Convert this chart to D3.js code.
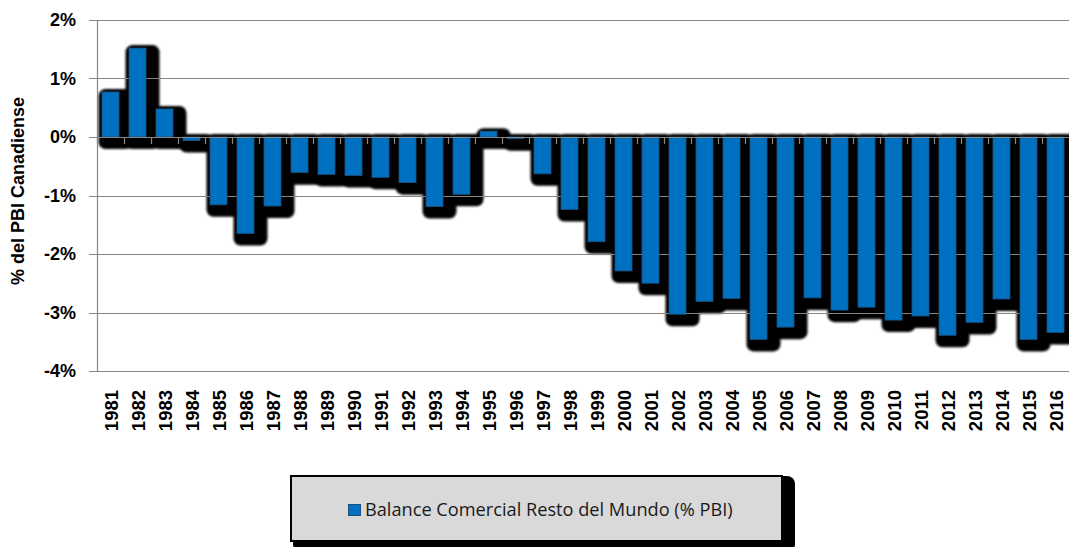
<!DOCTYPE html>
<html>
<head>
<meta charset="utf-8">
<script src="https://cdn.jsdelivr.net/npm/d3@7"></script>
<style>
  html, body { margin: 0; padding: 0; background: #fff; }
  svg { display: block; }
</style>
</head>
<body>
<script>
const years = ["1981","1982","1983","1984","1985","1986","1987","1988","1989","1990",
  "1991","1992","1993","1994","1995","1996","1997","1998","1999","2000",
  "2001","2002","2003","2004","2005","2006","2007","2008","2009","2010",
  "2011","2012","2013","2014","2015","2016"];
const balance = [0.77, 1.52, 0.48, -0.06, -1.16, -1.65, -1.18, -0.61, -0.64, -0.66,
  -0.69, -0.78, -1.19, -0.98, 0.10, -0.03, -0.63, -1.24, -1.79, -2.29,
  -2.50, -3.03, -2.81, -2.76, -3.46, -3.25, -2.75, -2.96, -2.91, -3.13,
  -3.06, -3.39, -3.17, -2.77, -3.46, -3.34];
const yTicks = [2, 1, 0, -1, -2, -3, -4];
const yTitle = "% del PBI Canadiense";
const legendLabel = "Balance Comercial Resto del Mundo (% PBI)";

const W = 1069, H = 547;
const svg = d3.select("body").append("svg").attr("width", W).attr("height", H);
svg.append("rect").attr("width", W).attr("height", H).attr("fill", "#fff");

const defs = svg.append("defs");
defs.append("filter").attr("id", "blur").attr("x", "-20%").attr("y", "-20%").attr("width", "140%").attr("height", "140%")
  .append("feGaussianBlur").attr("stdDeviation", 0.8);

const x = d3.scaleBand().domain(years).range([97, 1069]).paddingInner(0.37).paddingOuter(0.185);
const y = d3.scaleLinear().domain([-4, 2]).range([371, 20]);
const y0 = y(0);

// shadows
svg.append("g").selectAll("rect").data(balance).join("rect")
  .attr("x", (d, i) => x(years[i]) - 3.5)
  .attr("y", d => Math.min(y(d), y0) - 3)
  .attr("width", x.bandwidth() + 17)
  .attr("height", d => Math.abs(y(d) - y0) + 15)
  .attr("rx", 7).attr("ry", 7)
  .attr("fill", "#000")
  .attr("filter", "url(#blur)");

// gridlines with outward ticks
const grid = svg.append("g");
grid.selectAll("line").data(yTicks).join("line")
  .attr("x1", 89).attr("x2", W)
  .attr("y1", d => Math.round(y(d)) + 0.5).attr("y2", d => Math.round(y(d)) + 0.5)
  .attr("stroke", "#868686").attr("stroke-width", 1.2);

// y axis line
svg.append("line").attr("x1", 97.5).attr("x2", 97.5).attr("y1", y(2)).attr("y2", y(-4))
  .attr("stroke", "#868686").attr("stroke-width", 1.2);

// bars
svg.append("g").selectAll("rect").data(balance).join("rect")
  .attr("x", (d, i) => x(years[i]))
  .attr("y", d => Math.min(y(d), y0))
  .attr("width", x.bandwidth())
  .attr("height", d => Math.abs(y(d) - y0))
  .attr("fill", "#0070C0")
  .attr("stroke", "#1d4f7a").attr("stroke-width", 0.8);

// zero axis line and ticks
svg.append("line").attr("x1", 97).attr("x2", W).attr("y1", Math.round(y0) + 0.5).attr("y2", Math.round(y0) + 0.5)
  .attr("stroke", "#868686").attr("stroke-width", 1.2);
svg.append("g").selectAll("line").data(d3.range(years.length + 1)).join("line")
  .attr("x1", i => 97 + i * x.step() + 0.5).attr("x2", i => 97 + i * x.step() + 0.5)
  .attr("y1", y0).attr("y2", y0 + 7)
  .attr("stroke", "#868686").attr("stroke-width", 1.2);

// y tick labels
svg.append("g").selectAll("text").data(yTicks).join("text")
  .attr("x", 76).attr("y", d => y(d)).attr("dy", "0.35em")
  .attr("text-anchor", "end")
  .attr("font-family", "Liberation Sans, Arial, sans-serif")
  .attr("font-weight", "bold").attr("font-size", 18)
  .attr("fill", "#000")
  .text(d => d + "%");

// x tick labels (rotated)
svg.append("g").selectAll("text").data(years).join("text")
  .attr("transform", d => `translate(${x(d) + x.bandwidth() / 2 + 7},390) rotate(-90)`)
  .attr("text-anchor", "end")
  .attr("font-family", "Liberation Sans, Arial, sans-serif")
  .attr("font-weight", "bold").attr("font-size", 18.5)
  .attr("fill", "#000")
  .text(d => d);

// y title
svg.append("text")
  .attr("transform", "translate(24,191) rotate(-90)")
  .attr("text-anchor", "middle")
  .attr("font-family", "Liberation Sans, Arial, sans-serif")
  .attr("font-weight", "bold").attr("font-size", 18)
  .attr("fill", "#000")
  .text(yTitle);

// legend
const lg = svg.append("g");
lg.append("rect").attr("x", 293).attr("y", 476).attr("width", 502).attr("height", 76)
  .attr("rx", 8).attr("fill", "#000");
lg.append("rect").attr("x", 291).attr("y", 476).attr("width", 491).attr("height", 65)
  .attr("fill", "#d9d9d9").attr("stroke", "#000").attr("stroke-width", 2);
lg.append("rect").attr("x", 348.5).attr("y", 504.5).attr("width", 12).attr("height", 11)
  .attr("fill", "#0070C0").attr("stroke", "#1d4f7a").attr("stroke-width", 1);
lg.append("text").attr("x", 365).attr("y", 516)
  .attr("font-family", "Open Sans, sans-serif").attr("font-size", 18.2)
  .attr("fill", "#1a1a1a")
  .text(legendLabel);
</script>
</body>
</html>
